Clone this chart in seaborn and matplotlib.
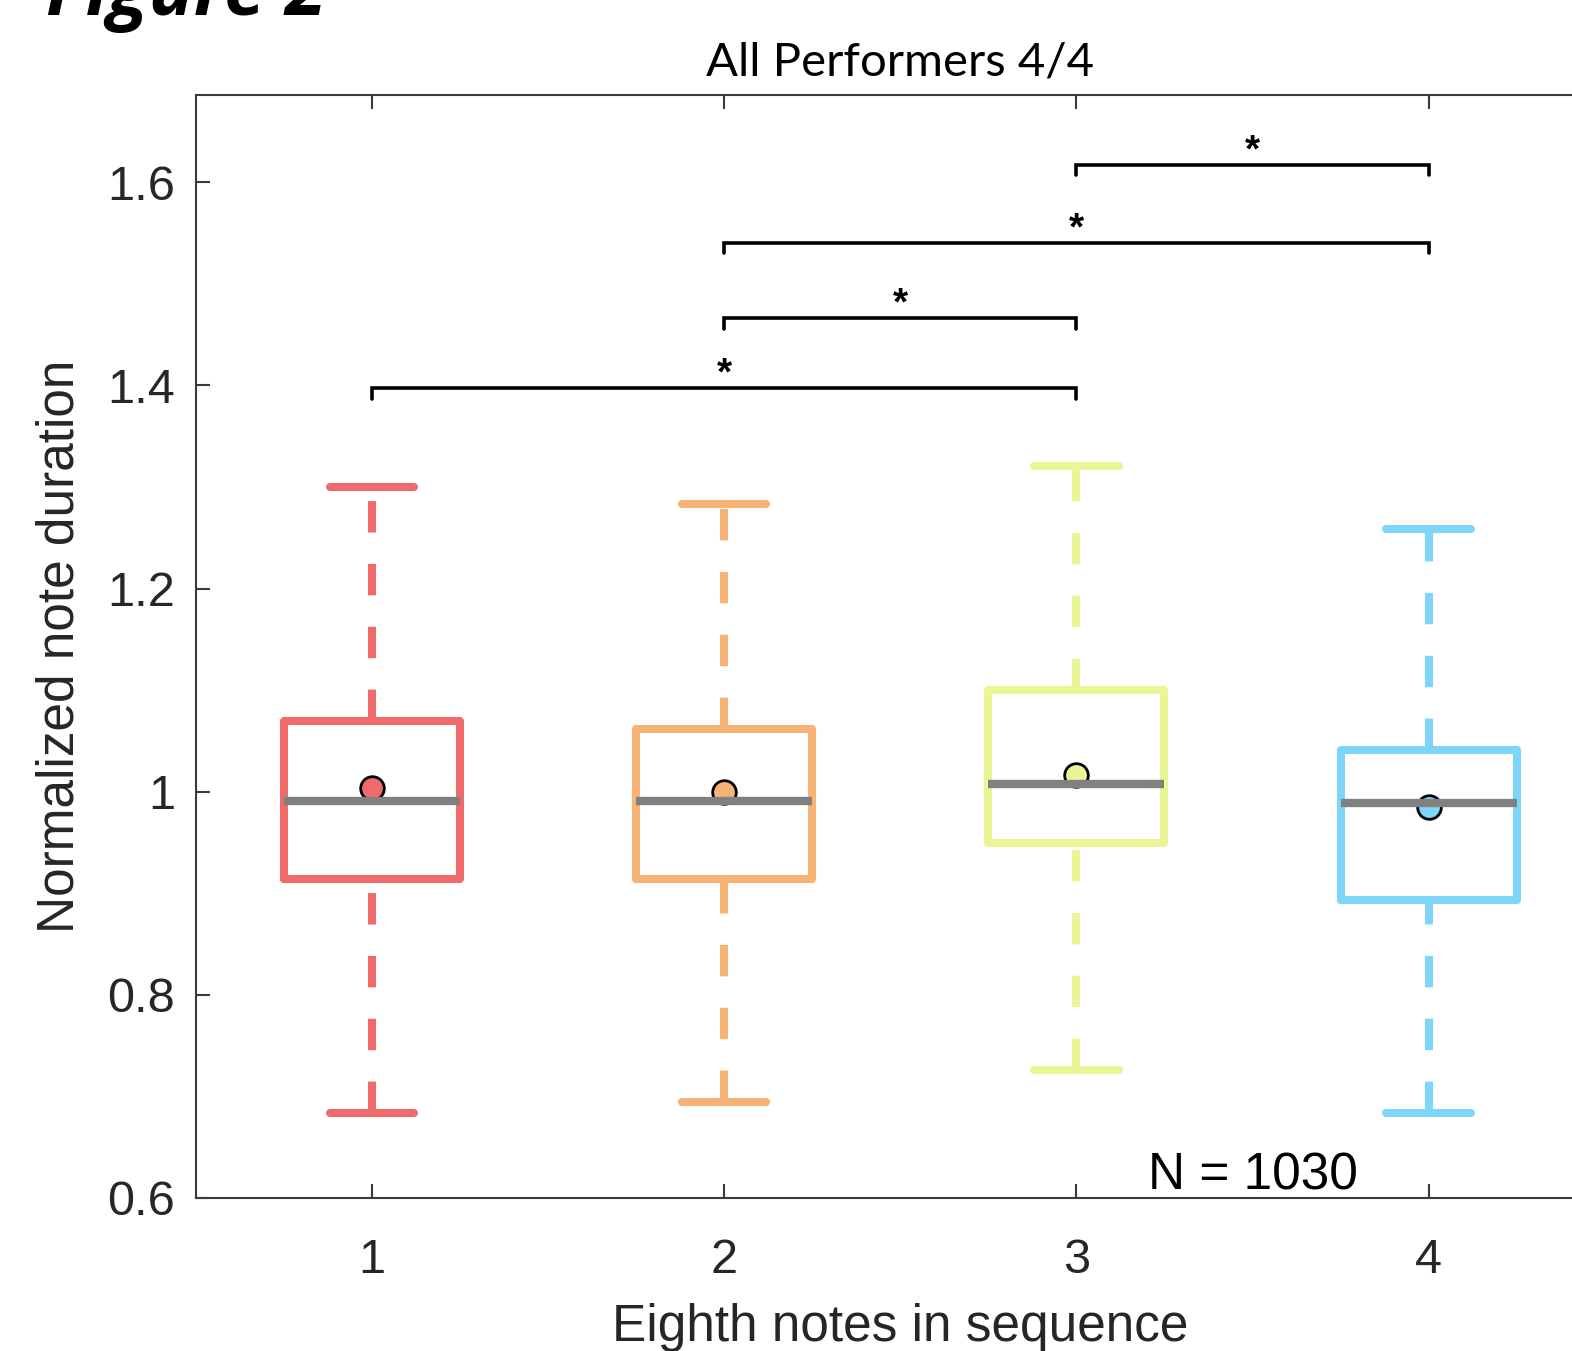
import matplotlib
matplotlib.use("Agg")
import matplotlib.pyplot as plt
import seaborn as sns
import pandas as pd

# ---- data ----
groups = ["1", "2", "3", "4"]
whisker_low = [0.684, 0.694, 0.726, 0.684]
q1_values = [0.914, 0.914, 0.949, 0.893]
medians = [0.991, 0.991, 1.008, 0.989]
q3_values = [1.070, 1.062, 1.100, 1.041]
whisker_high = [1.300, 1.283, 1.321, 1.259]
means = [1.004, 1.000, 1.016, 0.985]
colors = ["#EF6A6A", "#F7B275", "#EBF595", "#7DD5FA"]
# significance brackets: (group a, group b, height)
sig_pairs = [("1", "3", 1.397), ("2", "3", 1.466), ("2", "4", 1.540), ("3", "4", 1.617)]
yticks = [0.6, 0.8, 1.0, 1.2, 1.4, 1.6]
ytick_labels = ["0.6", "0.8", "1", "1.2", "1.4", "1.6"]

# five-number summaries as long table (quartiles reproduce exactly with 5 values)
rows = []
for g, lo, a, m, b, hi in zip(groups, whisker_low, q1_values, medians, q3_values, whisker_high):
    for v in (lo, a, m, b, hi):
        rows.append({"group": g, "value": v})
df = pd.DataFrame(rows)
df_mean = pd.DataFrame({"group": groups, "mean": means})

sns.set_theme(style="ticks")
plt.rcParams["font.family"] = ["Liberation Sans", "DejaVu Sans"]

fig = plt.figure(figsize=(15.72, 13.51), dpi=100)
ax = fig.add_axes([0.1246, 0.1133, 0.8962, 0.8164])

palette = dict(zip(groups, colors))
sns.boxplot(
    data=df, x="group", y="value", hue="group", order=groups, hue_order=groups,
    palette=palette, fill=False, width=0.5, whis=100, linewidth=5.8,
    capwidths=0.24, legend=False, ax=ax,
    medianprops=dict(color="#808080", linewidth=6),
    whiskerprops=dict(linestyle=(0, (3.9, 3.9)), linewidth=5.8),
    capprops=dict(linewidth=5.8),
)
# draw lower whiskers starting from the cap end (dash phase as in reference)
for line in ax.lines:
    if line.get_linestyle() not in ("-", "None", "") and len(line.get_ydata()) == 2:
        xs, ys = line.get_xdata(), line.get_ydata()
        if ys[1] < ys[0]:
            line.set_data(xs[::-1], ys[::-1])

sns.pointplot(
    data=df_mean, x="group", y="mean", hue="group", order=groups, hue_order=groups,
    palette=palette, linestyle="none", markers="o", errorbar=None, legend=False,
    markersize=17, markeredgecolor="black", markeredgewidth=2.0, ax=ax,
)

# significance brackets
pos = {g: i for i, g in enumerate(groups)}
for a, b, h in sig_pairs:
    xa, xb = pos[a], pos[b]
    ax.plot([xa, xa, xb, xb], [h - 0.010, h, h, h - 0.010], color="black", lw=2.6,
            solid_joinstyle="miter", zorder=5)
    ax.text((xa + xb) / 2, h + 0.004, "*", ha="center", va="baseline", fontsize=28,
            fontweight="bold", color="black")

ax.text(2.5, 0.6083, "N = 1030", ha="center", va="baseline", fontsize=37, color="black")

ax.set_xlim(-0.5, 3.5)
ax.set_ylim(0.6, 1.686)
ax.set_yticks(yticks)
ax.set_yticklabels(ytick_labels)
ax.set_xticks(range(len(groups)))
ax.set_xticklabels(groups)

for s in ax.spines.values():
    s.set_visible(True)
    s.set_color("#3a3a3a")
    s.set_linewidth(1.5)
ax.tick_params(axis="both", direction="in", length=10, width=1.5, color="#3a3a3a",
               labelsize=35, labelcolor="#262626", top=True, right=True)
ax.tick_params(axis="y", pad=15)
ax.tick_params(axis="x", pad=29)

ax.set_xlabel("Eighth notes in sequence", fontsize=37, color="#262626", labelpad=14)
ax.set_ylabel("Normalized note duration", fontsize=37, color="#262626", labelpad=16)
ax.set_title("All Performers 4/4", fontsize=34, family=["Lato", "DejaVu Sans"],
             color="black", pad=14)

fig.text(0.029, 0.9889, "Figure 2", fontsize=54, fontweight="bold", fontstyle="italic",
         family=["Open Sans", "DejaVu Sans"], ha="left", va="baseline", color="black")

fig.savefig("out.png", dpi=100)
